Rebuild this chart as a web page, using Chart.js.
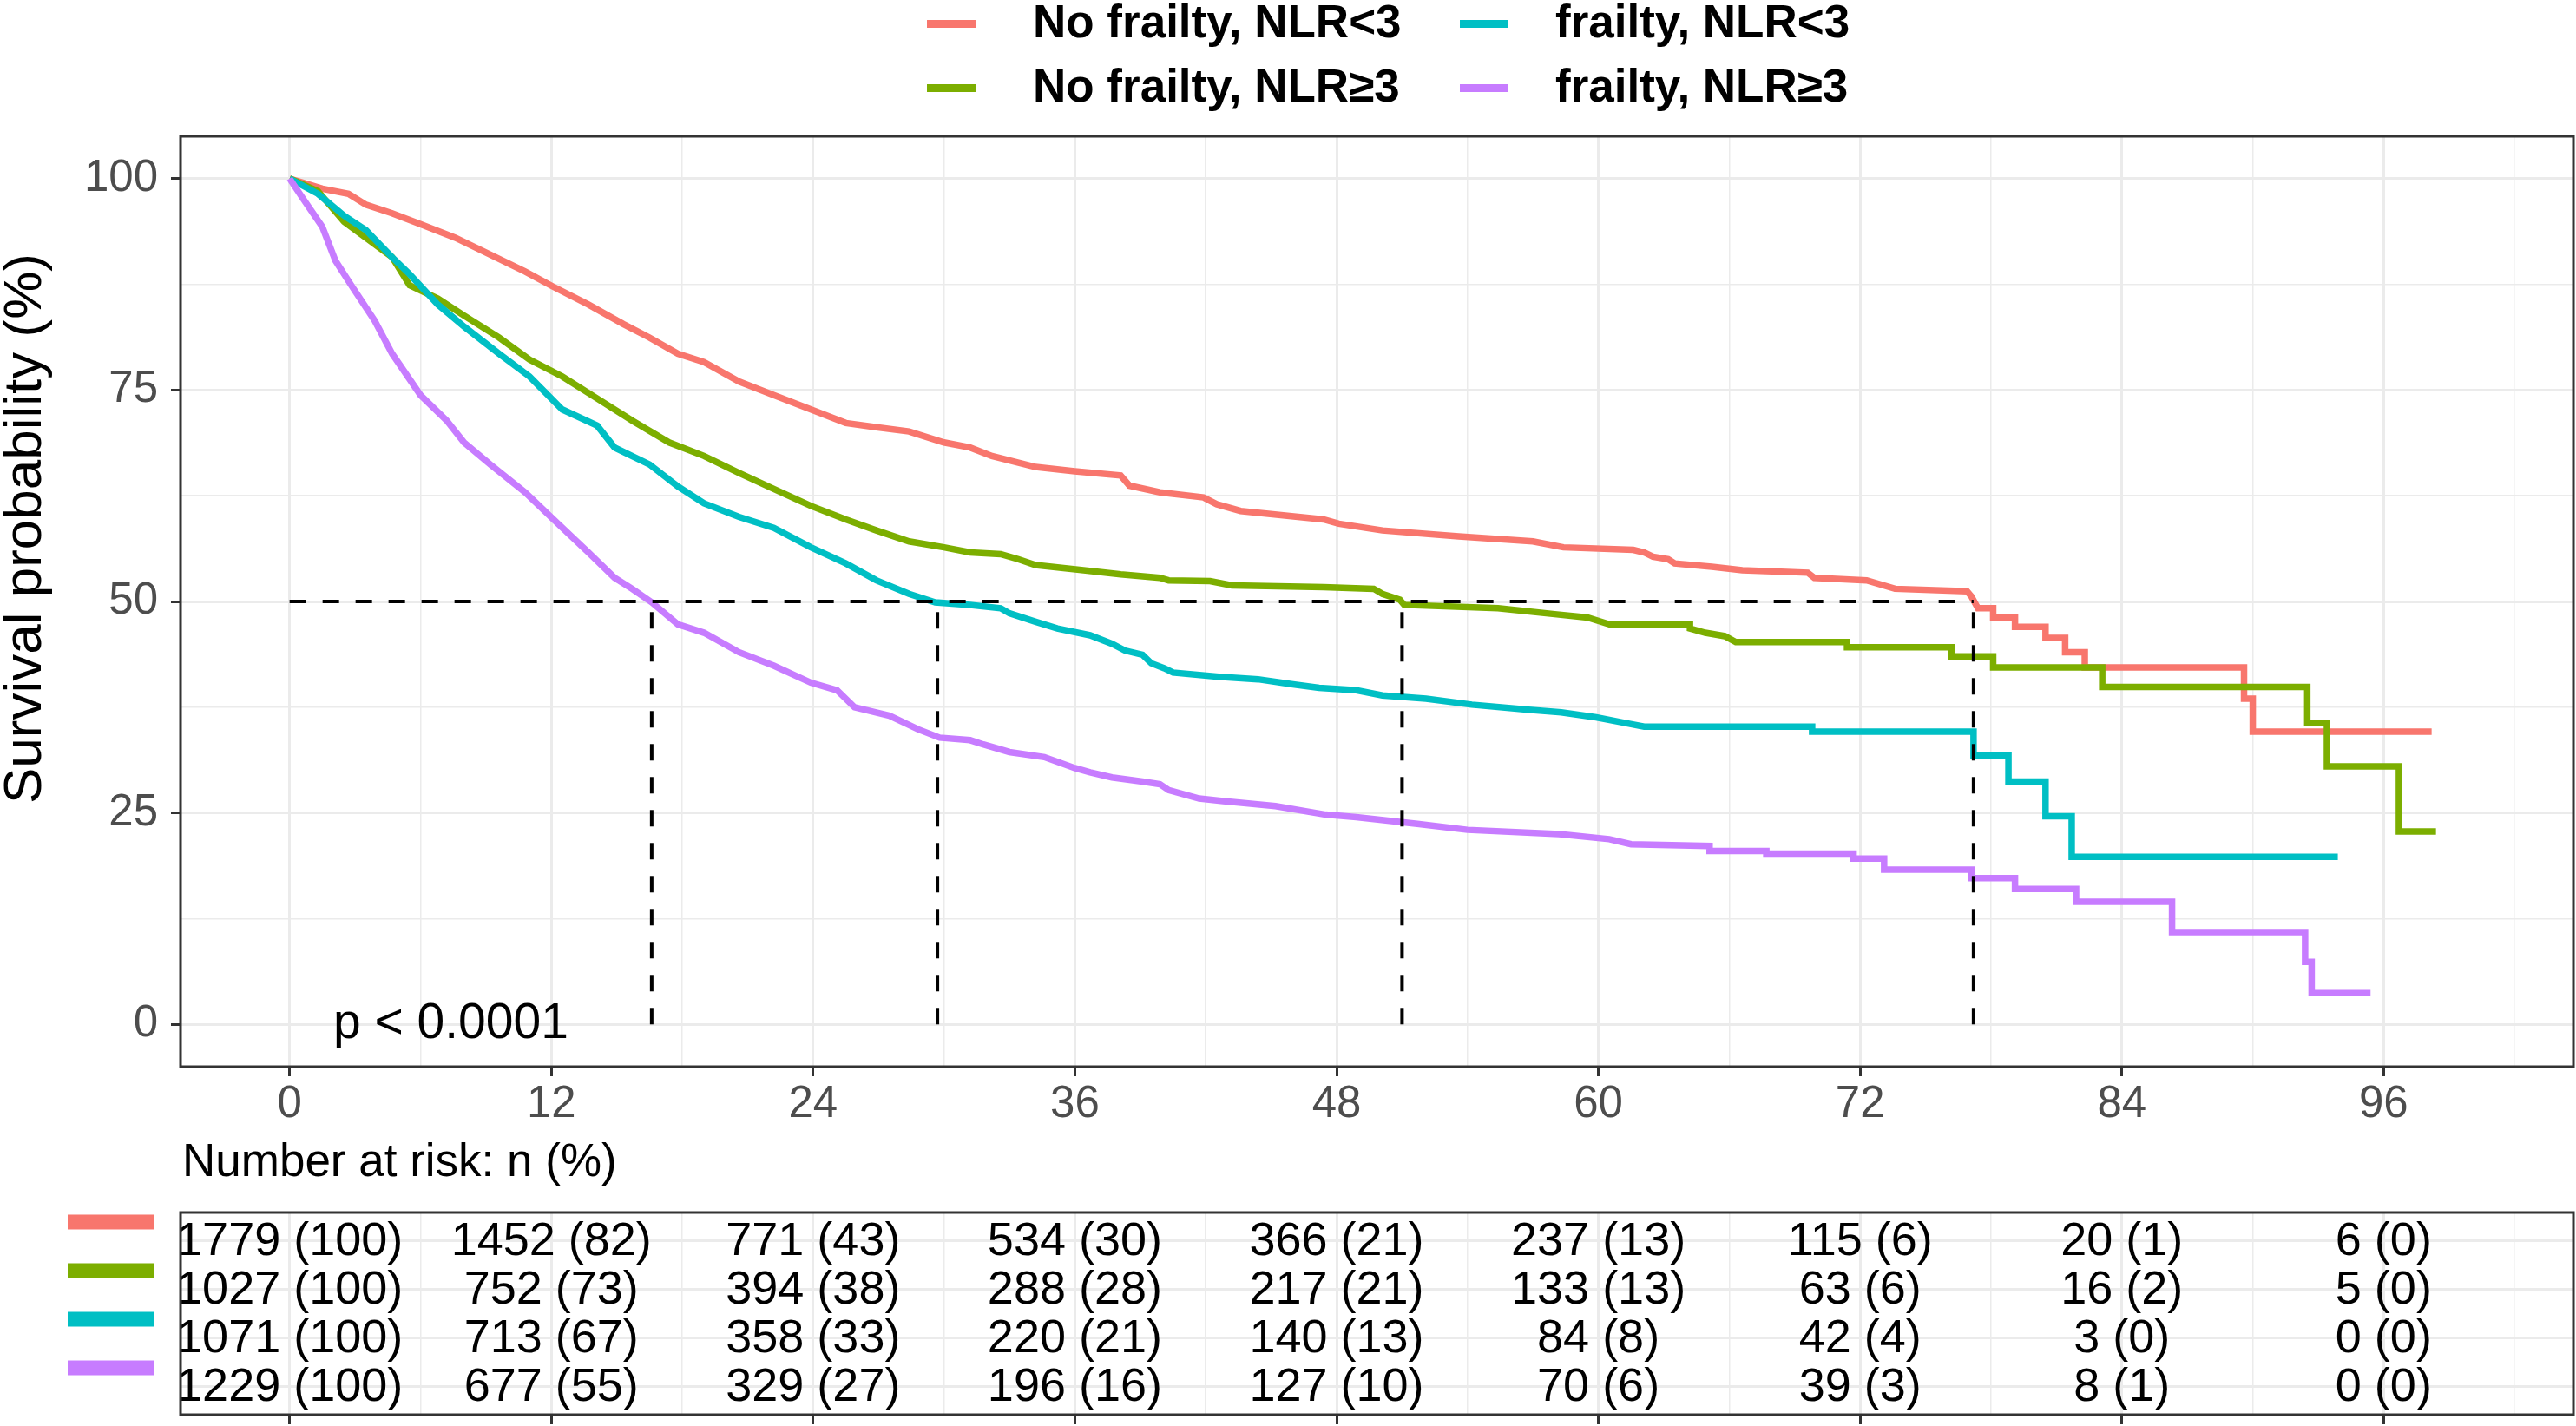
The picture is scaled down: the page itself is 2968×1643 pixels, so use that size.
<!DOCTYPE html>
<html>
<head>
<meta charset="utf-8">
<title>Survival by frailty and NLR</title>
<script src="https://cdn.jsdelivr.net/npm/chart.js@4.4.1/dist/chart.umd.min.js"></script>
<style>
  html, body { margin: 0; padding: 0; background: #fff; }
  #page { position: relative; width: 2968px; height: 1643px; overflow: hidden;
          font-family: 'Liberation Sans', Arial, sans-serif; }
  #kmChart { position: absolute; left: 0; top: 0; }
  #riskChart { position: absolute; left: 0; top: 1290px; }
  .key { position: absolute; width: 56px; height: 9px; }
  .lab { position: absolute; font-weight: bold; font-size: 53px; line-height: 53px;
         color: #000; white-space: nowrap; }
</style>
</head>
<body>
<div id="page">
  <canvas id="kmChart" width="2968" height="1300"></canvas>
  <canvas id="riskChart" width="2968" height="353"></canvas>
  <div id="legend"></div>
</div>
<script>
// groups, in the order ggplot used them
const groupNames = ['No frailty, NLR<3', 'No frailty, NLR\u22653', 'frailty, NLR<3', 'frailty, NLR\u22653'];
const groupColors = ['#F8766D', '#7CAE00', '#00BFC4', '#C77CFF'];

// survival curves: [month, survival %]
const noFrailLow = [[0,100],[1.5,98.8],[2.7,98.2],[3.5,96.9],[4.7,95.9],[6.0,94.6],[7.6,93.0],[9.2,91.0],
  [10.8,89.0],[12.1,87.2],[13.7,85.1],[15.3,82.8],[16.5,81.2],[17.8,79.3],[19.0,78.3],[20.6,76.0],
  [22.2,74.4],[23.9,72.7],[25.5,71.1],[26.9,70.6],[28.4,70.1],[30.0,68.8],[31.2,68.2],[32.2,67.2],
  [34.2,65.9],[36.0,65.4],[38.1,64.9],[38.5,63.7],[39.9,62.9],[41.9,62.3],[42.5,61.5],[43.6,60.7],
  [47.4,59.7],[48.1,59.2],[50.1,58.4],[53.6,57.7],[57.0,57.1],[58.4,56.4],[61.6,56.1],[62.1,55.8],
  [62.5,55.3],[63.2,55.0],[63.5,54.5],[65.2,54.1],[66.6,53.7],[69.6,53.4],[69.9,52.8],[72.3,52.5],
  [73.6,51.5],[76.9,51.2],[77.1,50.6],[77.4,49.2],[78.1,49.2],[78.1,48.1],[79.1,48.1],[79.1,47.0],
  [80.5,47.0],[80.5,45.7],[81.4,45.7],[81.4,44.0],[82.3,44.0],[82.3,42.2],[89.6,42.2],[89.6,38.5],
  [90.0,38.5],[90.0,34.6],[98.2,34.6]];
const noFrailHigh = [[0,100],[1.3,98.5],[2.5,94.9],[3.5,93.0],[4.7,90.7],[5.5,87.4],[6.8,85.8],[8.0,83.8],
  [9.6,81.2],[11.0,78.6],[12.5,76.6],[14.1,74.0],[15.7,71.4],[17.4,68.8],[19.0,67.2],[20.6,65.2],
  [22.2,63.3],[23.9,61.3],[25.5,59.7],[26.9,58.4],[28.4,57.1],[30.0,56.4],[31.2,55.8],[32.6,55.6],
  [33.4,55.0],[34.2,54.3],[36.4,53.7],[38.1,53.2],[39.9,52.8],[40.3,52.5],[42.2,52.4],[43.2,51.9],
  [47.4,51.7],[49.7,51.5],[50.1,50.9],[50.9,50.2],[51.1,49.6],[55.4,49.2],[58.0,48.5],[59.5,48.1],
  [60.5,47.3],[64.2,47.3],[64.2,46.8],[64.9,46.3],[65.8,45.9],[66.3,45.2],[71.4,45.2],[71.4,44.6],
  [76.2,44.6],[76.2,43.5],[78.1,43.5],[78.1,42.2],[83.1,42.2],[83.1,39.9],[92.5,39.9],[92.5,35.6],
  [93.4,35.6],[93.4,30.5],[96.7,30.5],[96.7,22.8],[98.4,22.8]];
const frailLow = [[0,100],[1.3,98.2],[2.5,95.6],[3.5,93.9],[4.7,90.7],[5.5,88.7],[6.8,85.1],[8.0,82.5],
  [9.6,79.3],[11.0,76.6],[12.5,72.7],[14.1,70.8],[14.9,68.2],[16.5,66.2],[17.8,63.6],[19.0,61.6],
  [20.6,60.0],[22.2,58.7],[23.9,56.4],[25.5,54.5],[26.9,52.5],[28.4,50.9],[29.6,49.9],[31.2,49.6],
  [32.6,49.2],[33.0,48.6],[34.2,47.6],[35.2,46.8],[36.7,46.0],[37.7,45.0],[38.3,44.2],[39.1,43.7],
  [39.5,42.7],[40.1,42.1],[40.5,41.6],[42.6,41.1],[44.4,40.8],[46.0,40.2],[47.2,39.8],[48.9,39.5],
  [50.1,38.9],[52.1,38.5],[54.2,37.8],[56.8,37.2],[58.3,36.9],[59.9,36.3],[61.1,35.7],[62.1,35.2],
  [69.8,35.2],[69.8,34.6],[77.2,34.6],[77.2,31.8],[78.8,31.8],[78.8,28.7],[80.5,28.7],[80.5,24.6],
  [81.7,24.6],[81.7,19.8],[93.9,19.8]];
const frailHigh = [[0,100],[0.65,97.5],[1.5,94.3],[2.1,90.3],[2.9,87.1],[3.9,83.2],[4.7,79.3],[6.0,74.4],
  [7.2,71.4],[8.0,68.8],[9.2,66.2],[10.8,62.9],[12.1,59.7],[13.7,55.8],[14.9,52.8],[15.7,51.5],
  [16.6,49.9],[17.8,47.3],[19.0,46.3],[20.6,44.0],[22.2,42.4],[23.9,40.4],[25.1,39.5],[25.9,37.5],
  [27.5,36.5],[28.8,34.9],[29.8,33.9],[31.2,33.6],[31.8,33.1],[33.0,32.2],[34.6,31.6],[36.0,30.3],
  [36.7,29.8],[37.7,29.2],[39.1,28.7],[39.9,28.4],[40.3,27.7],[41.7,26.7],[42.8,26.4],[45.2,25.8],
  [47.5,24.8],[48.9,24.5],[51.7,23.7],[54.0,23.0],[58.2,22.5],[60.5,21.9],[61.5,21.3],[65.1,21.1],
  [65.1,20.5],[67.7,20.5],[67.7,20.2],[71.7,20.2],[71.7,19.6],[73.1,19.6],[73.1,18.3],[77.1,18.3],
  [77.1,17.3],[79.1,17.3],[79.1,16.0],[81.9,16.0],[81.9,14.5],[86.3,14.5],[86.3,10.9],[92.4,10.9],
  [92.4,7.4],[92.7,7.4],[92.7,3.7],[95.4,3.7]];
const curves = [noFrailLow, noFrailHigh, frailLow, frailHigh];

// median survival (months), same group order
const medianMonths = [77.2, 51.0, 29.7, 16.6];
const pValueText = 'p < 0.0001';

// axes
const xTickMonths = [0, 6, 12, 18, 24, 30, 36, 42, 48, 54, 60, 66, 72, 78, 84, 90, 96, 102];
const yTickPct = [0, 12.5, 25, 37.5, 50, 62.5, 75, 87.5, 100];

// number at risk: n and (%) at each 12-month mark
const riskMonths = [0, 12, 24, 36, 48, 60, 72, 84, 96];
const riskNoFrailLow = [1779, 1452, 771, 534, 366, 237, 115, 20, 6];
const riskNoFrailLowPct = [100, 82, 43, 30, 21, 13, 6, 1, 0];
const riskNoFrailHigh = [1027, 752, 394, 288, 217, 133, 63, 16, 5];
const riskNoFrailHighPct = [100, 73, 38, 28, 21, 13, 6, 2, 0];
const riskFrailLow = [1071, 713, 358, 220, 140, 84, 42, 3, 0];
const riskFrailLowPct = [100, 67, 33, 21, 13, 8, 4, 0, 0];
const riskFrailHigh = [1229, 677, 329, 196, 127, 70, 39, 8, 0];
const riskFrailHighPct = [100, 55, 27, 16, 10, 6, 3, 1, 0];
const riskCounts = [riskNoFrailLow, riskNoFrailHigh, riskFrailLow, riskFrailHigh];
const riskPcts = [riskNoFrailLowPct, riskNoFrailHighPct, riskFrailLowPct, riskFrailHighPct];

const FONT = "'Liberation Sans', Arial, sans-serif";
const GRID = '#EBEBEB';
const INK = '#333333';
Chart.defaults.font.family = FONT;

// ---- legend (two columns, filled by column like ggplot) ----
const legendSlots = [[0, 0], [1, 0], [0, 1], [1, 1]];   // [row, col] per group
const keyLeft = [1068, 1682], textLeft = [1190, 1792];
const keyMid = [27, 101], textMid = [24, 98];
const legendBox = document.getElementById('legend');
groupNames.forEach((name, i) => {
    const [r, c] = legendSlots[i];
    const key = document.createElement('div');
    key.className = 'key';
    key.style.left = keyLeft[c] + 'px';
    key.style.top = (keyMid[r] - 4.5) + 'px';
    key.style.background = groupColors[i];
    legendBox.appendChild(key);
    const lab = document.createElement('div');
    lab.className = 'lab';
    lab.style.left = textLeft[c] + 'px';
    lab.style.top = (textMid[r] - 26.5) + 'px';
    lab.textContent = name;
    legendBox.appendChild(lab);
});

const isMajorX = v => v % 12 === 0;
const isMajorY = v => v % 25 === 0;

function xScale(showLabels) {
    return {
        type: 'linear',
        min: -5,
        max: 104.7,
        afterBuildTicks: s => { s.ticks = xTickMonths.map(v => ({ value: v })); },
        afterFit: s => { s.height = showLabels ? 71 : 13; },
        border: { display: false },
        grid: {
            color: GRID,
            lineWidth: c => (c.tick && isMajorX(c.tick.value)) ? 3 : 1.5,
            drawTicks: true,
            tickLength: 11,
            tickWidth: 3,
            tickColor: c => (c.tick && isMajorX(c.tick.value)) ? INK : 'rgba(0,0,0,0)'
        },
        ticks: {
            display: showLabels,
            autoSkip: false,
            maxRotation: 0,
            padding: 2,
            color: '#4D4D4D',
            font: { size: 51 },
            callback: v => isMajorX(v) ? String(v) : ''
        }
    };
}

// ---- Kaplan-Meier panel ----
const curveSets = curves.map((pts, i) => ({
    label: groupNames[i],
    data: pts.map(p => ({ x: p[0], y: p[1] })),
    showLine: true,
    borderColor: groupColors[i],
    backgroundColor: groupColors[i],
    borderWidth: 7.5,
    borderJoinStyle: 'miter',
    pointRadius: 0,
    fill: false,
    order: 4 - i
}));

const dashStyle = { showLine: true, borderColor: '#000', borderWidth: 4, borderDash: [19, 19],
    pointRadius: 0, fill: false, order: 0 };
const medianSets = [{
    ...dashStyle, label: 'median',
    data: [{ x: 0, y: 50 }, { x: Math.max(...medianMonths), y: 50 }]
}].concat(medianMonths.map(m => ({
    ...dashStyle, label: 'median',
    data: [{ x: m, y: 0 }, { x: m, y: 50 }]
})));

const kmDecor = {
    id: 'kmDecor',
    afterDatasetsDraw(chart) {
        const { ctx, chartArea: a, scales: { x, y } } = chart;
        ctx.save();
        ctx.fillStyle = '#000';
        ctx.font = '57px ' + FONT;
        ctx.textAlign = 'left';
        ctx.textBaseline = 'middle';
        ctx.fillText(pValueText, x.getPixelForValue(2), y.getPixelForValue(0));
        ctx.strokeStyle = INK;
        ctx.lineWidth = 3;
        ctx.strokeRect(a.left, a.top, a.right - a.left, a.bottom - a.top);
        ctx.translate(30, 609);
        ctx.rotate(-Math.PI / 2);
        ctx.textAlign = 'center';
        ctx.font = '62px ' + FONT;
        ctx.fillText('Survival probability (%)', 0, 0);
        ctx.restore();
    }
};

new Chart(document.getElementById('kmChart'), {
    type: 'scatter',
    data: { datasets: medianSets.concat(curveSets) },
    options: {
        responsive: false,
        animation: false,
        devicePixelRatio: 1,
        layout: { padding: { left: 0, right: 3, top: 157, bottom: 0 } },
        plugins: { legend: { display: false }, tooltip: { enabled: false } },
        scales: {
            x: xScale(true),
            y: {
                type: 'linear',
                min: -5,
                max: 105,
                afterBuildTicks: s => { s.ticks = yTickPct.map(v => ({ value: v })); },
                afterFit: s => { s.width = 208; },
                border: { display: false },
                grid: {
                    color: GRID,
                    lineWidth: c => (c.tick && isMajorY(c.tick.value)) ? 3 : 1.5,
                    tickLength: 11,
                    tickWidth: 3,
                    tickColor: c => (c.tick && isMajorY(c.tick.value)) ? INK : 'rgba(0,0,0,0)'
                },
                ticks: {
                    autoSkip: false,
                    padding: 15,
                    color: '#4D4D4D',
                    font: { size: 51 },
                    callback: v => isMajorY(v) ? String(v) : ''
                }
            }
        }
    },
    plugins: [kmDecor]
});

// ---- number at risk table ----
const riskSets = riskCounts.map((counts, i) => ({
    label: groupNames[i],
    data: riskMonths.map((m, j) => ({ x: m, y: i + 1, text: counts[j] + ' (' + riskPcts[i][j] + ')' })),
    pointRadius: 0,
    showLine: false
}));

const riskDecor = {
    id: 'riskDecor',
    afterDatasetsDraw(chart) {
        const { ctx, chartArea: a, scales: { y } } = chart;
        ctx.save();
        ctx.fillStyle = '#000';
        ctx.font = '54px ' + FONT;
        ctx.textAlign = 'center';
        ctx.textBaseline = 'middle';
        chart.data.datasets.forEach((ds, i) => {
            chart.getDatasetMeta(i).data.forEach((el, j) => {
                ctx.fillText(ds.data[j].text, el.x, el.y + 2);
            });
        });
        ctx.strokeStyle = INK;
        ctx.lineWidth = 3;
        ctx.strokeRect(a.left, a.top, a.right - a.left, a.bottom - a.top);
        // coloured bars in place of the row labels
        groupColors.forEach((col, i) => {
            ctx.fillStyle = col;
            ctx.fillRect(78, y.getPixelForValue(i + 1) - 30, 100, 17);
        });
        ctx.fillStyle = '#000';
        ctx.font = '53px ' + FONT;
        ctx.textAlign = 'left';
        ctx.fillText('Number at risk: n (%)', 210, 50);
        ctx.restore();
    }
};

new Chart(document.getElementById('riskChart'), {
    type: 'scatter',
    data: { datasets: riskSets },
    options: {
        responsive: false,
        animation: false,
        devicePixelRatio: 1,
        layout: { padding: { left: 0, right: 3, top: 107, bottom: 0 } },
        plugins: { legend: { display: false }, tooltip: { enabled: false } },
        scales: {
            x: xScale(false),
            y: {
                type: 'linear',
                reverse: true,
                min: 0.42,
                max: 4.58,
                afterBuildTicks: s => { s.ticks = [1, 2, 3, 4].map(v => ({ value: v })); },
                afterFit: s => { s.width = 208; },
                border: { display: false },
                grid: { color: GRID, lineWidth: 3, drawTicks: false },
                ticks: { display: false }
            }
        }
    },
    plugins: [riskDecor]
});
</script>
</body>
</html>
